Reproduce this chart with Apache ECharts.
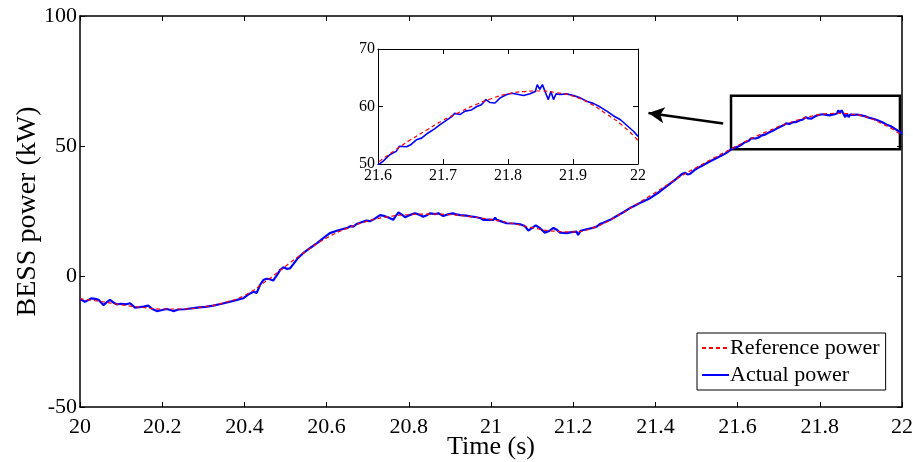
<!DOCTYPE html>
<html>
<head>
<meta charset="utf-8">
<script src="https://cdn.jsdelivr.net/npm/echarts@6/dist/echarts.min.js"></script>
<style>
  html, body { margin: 0; padding: 0; background: #fff; }
  #chart { width: 913px; height: 462px; }
</style>
</head>
<body>
<div id="chart"></div>
<script>
// reference power (smooth, red dashed)
const refTime = [20.00, 20.05, 20.10, 20.15, 20.20, 20.25, 20.30, 20.35, 20.40, 20.45,
  20.50, 20.55, 20.60, 20.65, 20.70, 20.75, 20.80, 20.85, 20.90, 20.95,
  21.00, 21.05, 21.10, 21.15, 21.20, 21.25, 21.30, 21.35, 21.40, 21.45,
  21.50, 21.55, 21.60, 21.625, 21.65, 21.675, 21.70, 21.725, 21.75, 21.775,
  21.80, 21.825, 21.85, 21.875, 21.90, 21.925, 21.95, 21.975, 22.00];
const refPower = [-8.5, -9.5, -10.8, -11.8, -12.4, -12.4, -11.6, -10.0, -7.2, -2.0,
  4.0, 9.8, 14.8, 18.6, 21.3, 23.0, 23.8, 24.0, 23.8, 23.0,
  21.9, 20.5, 18.8, 17.5, 17.2, 18.8, 22.6, 27.4, 32.3, 37.4,
  41.9, 46.2, 50.3, 52.3, 54.2, 55.9, 57.6, 59.0, 60.3, 61.4,
  62.2, 62.6, 62.7, 62.4, 61.8, 60.6, 58.8, 56.8, 54.1];

// actual power (measured, blue)
const actTime = [20.000, 20.012, 20.020, 20.028, 20.037, 20.045, 20.057, 20.065, 20.073, 20.081,
  20.089, 20.100, 20.112, 20.122, 20.134, 20.145, 20.155, 20.166, 20.176, 20.187,
  20.200, 20.211, 20.220, 20.227, 20.240, 20.255, 20.276, 20.290, 20.305, 20.324,
  20.345, 20.365, 20.382, 20.397, 20.410, 20.422, 20.430, 20.438, 20.446, 20.454,
  20.462, 20.470, 20.480, 20.487, 20.495, 20.503, 20.511, 20.520, 20.530, 20.543,
  20.560, 20.576, 20.592, 20.608, 20.625, 20.640, 20.649, 20.658, 20.665, 20.673,
  20.685, 20.697, 20.705, 20.715, 20.730, 20.742, 20.752, 20.762, 20.768, 20.775,
  20.783, 20.791, 20.800, 20.815, 20.825, 20.835, 20.845, 20.852, 20.864, 20.872,
  20.884, 20.895, 20.907, 20.916, 20.925, 20.940, 20.955, 20.965, 20.975, 20.981,
  20.995, 21.006, 21.010, 21.014, 21.025, 21.038, 21.055, 21.071, 21.082, 21.091,
  21.100, 21.109, 21.120, 21.131, 21.140, 21.152, 21.160, 21.168, 21.184, 21.196,
  21.208, 21.212, 21.218, 21.233, 21.245, 21.257, 21.265, 21.273, 21.290, 21.306,
  21.322, 21.338, 21.346, 21.365, 21.387, 21.405, 21.427, 21.450, 21.465, 21.472,
  21.478, 21.484, 21.495, 21.509, 21.530, 21.549, 21.570, 21.589, 21.600, 21.608,
  21.618, 21.628, 21.633, 21.644, 21.651, 21.659, 21.667, 21.677, 21.687, 21.695,
  21.705, 21.713, 21.718, 21.726, 21.734, 21.744, 21.752, 21.759, 21.766, 21.772,
  21.780, 21.788, 21.798, 21.806, 21.816, 21.824, 21.834, 21.842, 21.845, 21.849,
  21.853, 21.857, 21.862, 21.866, 21.870, 21.874, 21.880, 21.890, 21.901, 21.911,
  21.921, 21.932, 21.942, 21.952, 21.962, 21.973, 21.983, 21.993, 22.000];
const actPower = [-8.6, -9.6, -9.0, -8.3, -8.5, -8.9, -10.9, -9.8, -8.9, -9.9,
  -10.6, -10.4, -10.6, -10.2, -11.9, -11.7, -11.5, -11.1, -12.4, -13.2,
  -12.8, -12.4, -12.8, -13.2, -12.6, -12.5, -12.1, -11.8, -11.6, -11.1,
  -10.4, -9.6, -8.9, -8.3, -6.8, -5.8, -6.2, -3.2, -1.3, -0.8,
  -1.0, -1.5, 0.8, 2.6, 3.6, 3.0, 3.2, 5.0, 7.1, 9.0,
  11.0, 12.8, 14.8, 16.7, 17.6, 18.3, 18.6, 19.4, 19.2, 20.2,
  20.9, 21.5, 21.3, 22.0, 23.6, 23.2, 22.6, 21.8, 23.2, 24.6,
  23.8, 22.8, 23.5, 24.3, 23.8, 23.0, 23.7, 24.3, 24.0, 24.3,
  23.3, 23.9, 24.3, 23.9, 23.6, 23.4, 23.0, 22.8, 22.4, 21.8,
  21.9, 21.8, 22.6, 21.8, 21.2, 20.5, 20.4, 20.1, 19.4, 17.7,
  18.7, 19.7, 18.5, 16.9, 17.4, 18.7, 18.0, 16.9, 16.7, 17.1,
  17.3, 16.0, 17.6, 18.2, 18.6, 19.2, 20.2, 20.7, 21.8, 23.3,
  24.7, 26.3, 26.9, 28.5, 30.1, 32.0, 34.6, 37.4, 39.4, 39.9,
  39.2, 39.4, 40.9, 42.2, 44.0, 45.5, 47.2, 49.3, 49.8, 50.5,
  51.6, 52.2, 53.1, 53.0, 53.4, 54.2, 54.5, 55.4, 56.1, 56.8,
  57.6, 58.2, 58.8, 58.6, 59.2, 59.4, 60.0, 60.3, 61.2, 60.7,
  60.6, 61.5, 62.1, 62.3, 62.1, 61.9, 62.2, 62.6, 63.8, 63.0,
  63.8, 62.6, 61.2, 62.6, 61.2, 62.2, 62.1, 62.2, 61.9, 61.5,
  60.9, 60.5, 59.9, 59.2, 58.4, 57.7, 56.7, 55.7, 54.8];

// main axes ticks
const mainXMin = 20, mainXMax = 22, mainXStep = 0.2;
const mainYMin = -50, mainYMax = 100, mainYStep = 50;
// inset axes ticks
const insetXMin = 21.6, insetXMax = 22, insetXStep = 0.1;
const insetYMin = 50, insetYMax = 70, insetYStep = 10;

// zoom box and arrow annotations (data coords of main axes)
const zoomBox = [[21.584, 69.4], [21.995, 48.9]];
const arrowFrom = [21.565, 58.8];
const arrowTo = [21.383, 62.75];

const refData = refTime.map((t, i) => [t, refPower[i]]);
const actData = actTime.map((t, i) => [t, actPower[i]]);

const FONT = "'Liberation Serif', 'Times New Roman', serif";

function xAxisCfg(grid, min, max, step, top, fs, lw, margin) {
  return {
    type: 'value', gridIndex: grid, min: min, max: max, interval: step,
    position: top ? 'top' : 'bottom',
    axisLine: { show: true, onZero: false, lineStyle: { color: '#000', width: lw } },
    axisTick: { show: true, inside: true, length: 5, lineStyle: { color: '#000', width: 1 } },
    axisLabel: { show: !top, color: '#000', fontFamily: FONT, fontSize: fs, margin: margin },
    splitLine: { show: false }
  };
}
function yAxisCfg(grid, min, max, step, right, fs, lw) {
  return {
    type: 'value', gridIndex: grid, min: min, max: max, interval: step,
    position: right ? 'right' : 'left',
    axisLine: { show: true, onZero: false, lineStyle: { color: '#000', width: lw } },
    axisTick: { show: true, inside: true, length: 5, lineStyle: { color: '#000', width: 1 } },
    axisLabel: { show: !right, color: '#000', fontFamily: FONT, fontSize: fs, margin: 3 },
    splitLine: { show: false }
  };
}

const chart = echarts.init(document.getElementById('chart'));

const xMain = xAxisCfg(0, mainXMin, mainXMax, mainXStep, false, 22, 1.5, 9);
xMain.name = 'Time (s)';
xMain.nameLocation = 'middle';
xMain.nameMoveOverlap = false;
xMain.nameGap = 27;
xMain.nameTextStyle = { color: '#000', fontFamily: FONT, fontSize: 26 };
const yMain = yAxisCfg(0, mainYMin, mainYMax, mainYStep, false, 22, 1.5);
yMain.name = 'BESS power (kW)';
yMain.nameLocation = 'middle';
yMain.nameMoveOverlap = false;
yMain.nameGap = 38;
yMain.nameTextStyle = { color: '#000', fontFamily: FONT, fontSize: 28 };

chart.setOption({
  animation: false,
  backgroundColor: '#fff',
  grid: [
    { left: 80, top: 16, width: 822, height: 391, show: false, outerBoundsMode: 'none', containLabel: false },
    { left: 378, top: 49, width: 260, height: 115, show: true, backgroundColor: '#fff', borderWidth: 0,
      outerBoundsMode: 'none', containLabel: false }
  ],
  xAxis: [
    xMain,
    xAxisCfg(0, mainXMin, mainXMax, mainXStep, true, 22, 1.5, 9),
    xAxisCfg(1, insetXMin, insetXMax, insetXStep, false, 16, 1, 4),
    xAxisCfg(1, insetXMin, insetXMax, insetXStep, true, 16, 1, 4)
  ],
  yAxis: [
    yMain,
    yAxisCfg(0, mainYMin, mainYMax, mainYStep, true, 22, 1.5),
    yAxisCfg(1, insetYMin, insetYMax, insetYStep, false, 16, 1),
    yAxisCfg(1, insetYMin, insetYMax, insetYStep, true, 16, 1)
  ],
  legend: {
    orient: 'vertical',
    left: 697, top: 333,
    padding: [4, 6, 4, 4],
    itemGap: 5,
    itemWidth: 27, itemHeight: 14,
    backgroundColor: '#fff',
    borderColor: '#000', borderWidth: 1,
    itemStyle: { opacity: 0 },
    textStyle: { color: '#000', fontFamily: FONT, fontSize: 22, padding: [0, 0, 0, -4] },
    data: ['Reference power', 'Actual power']
  },
  series: [
    {
      name: 'Actual power', type: 'line', xAxisIndex: 0, yAxisIndex: 0,
      data: actData, symbol: 'none', z: 2,
      lineStyle: { color: '#0000ff', width: 2.2 }, itemStyle: { color: '#0000ff' },
      markArea: {
        silent: true,
        itemStyle: { color: 'rgba(0,0,0,0)', borderColor: '#000', borderWidth: 2.5 },
        data: [[{ coord: zoomBox[0] }, { coord: zoomBox[1] }]]
      },
      markLine: {
        silent: true, symbol: ['none', 'arrow'], symbolSize: [12, 16],
        label: { show: false },
        lineStyle: { color: '#000', width: 2.5, type: 'solid' },
        data: [[{ coord: arrowFrom }, { coord: arrowTo }]]
      }
    },
    {
      name: 'Reference power', type: 'line', xAxisIndex: 0, yAxisIndex: 0,
      data: refData, symbol: 'none', smooth: true, z: 3,
      lineStyle: { color: '#ff0000', width: 1.2, type: [4, 3] }, itemStyle: { color: '#ff0000' }
    },
    {
      name: 'Actual power', type: 'line', xAxisIndex: 2, yAxisIndex: 2,
      data: actData, symbol: 'none', clip: true, z: 4,
      lineStyle: { color: '#0000ff', width: 1.6 }
    },
    {
      name: 'Reference power', type: 'line', xAxisIndex: 2, yAxisIndex: 2,
      data: refData, symbol: 'none', smooth: true, clip: true, z: 5,
      lineStyle: { color: '#ff0000', width: 1.2, type: [4, 3] }
    }
  ]
});
</script>
</body>
</html>
